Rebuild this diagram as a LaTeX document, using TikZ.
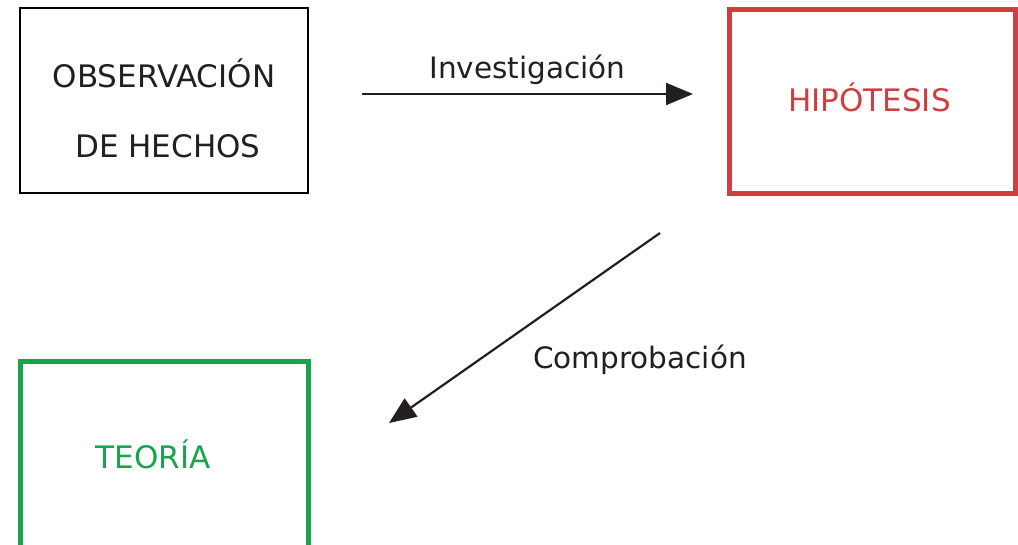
\documentclass[tikz,border=0pt]{standalone}
\usepackage{fontspec}
\setmainfont{DejaVu Sans}
\usepackage{xcolor}
\usepackage{tikz}
\usetikzlibrary{arrows.meta,calc}
\definecolor{textgray}{HTML}{231F20}
\definecolor{hipred}{HTML}{D03E40}
\definecolor{teogreen}{HTML}{17A44C}

\begin{document}
\begin{tikzpicture}[x=1pt,y=-1pt,
    box/.style={draw, minimum width=288pt, minimum height=185pt, inner sep=0pt, align=center, font=\fontsize{31}{70}\selectfont},
    arr/.style={line width=2.2pt, textgray, -{Triangle[length=27pt,width=22pt]}},
    lbl/.style={text=textgray, font=\fontsize{29.5}{35}\selectfont}]
    \useasboundingbox (0,0) rectangle (1018,544);
    \node [box, line width=1.9pt,
        label={[text=textgray, align=center, font=\fontsize{31}{70}\selectfont, yshift=-8pt]center:{OBSERVACIÓN\\\hspace*{8pt}DE HECHOS}}] (obs) at (164,100.5) {};
    \node [box, line width=5pt, draw=hipred, text=hipred, minimum width=286pt, minimum height=184pt] (hip) at (872.5,101) {\raisebox{4pt}[\height][\depth]{\hspace*{-6pt}HIPÓTESIS}};
    \node [box, line width=5pt, draw=teogreen, text=teogreen, minimum height=196pt] (teo) at (164,459.5) {\raisebox{5pt}[\height][\depth]{\hspace*{-22pt}TEORÍA}};
    \draw [arr] ([shift={(53,-6.5)}]obs.east) -- ([shift={(-34,-7)}]hip.west) node [lbl, midway, above, yshift=5pt] {Investigación};
    \draw [arr] ([shift={(-212.5,37.5)}]hip.south) -- ([shift={(225,64)}]teo.north) node [lbl, midway, xshift=115.5pt, yshift=-32pt] {Comprobación};
\end{tikzpicture}
\end{document}
